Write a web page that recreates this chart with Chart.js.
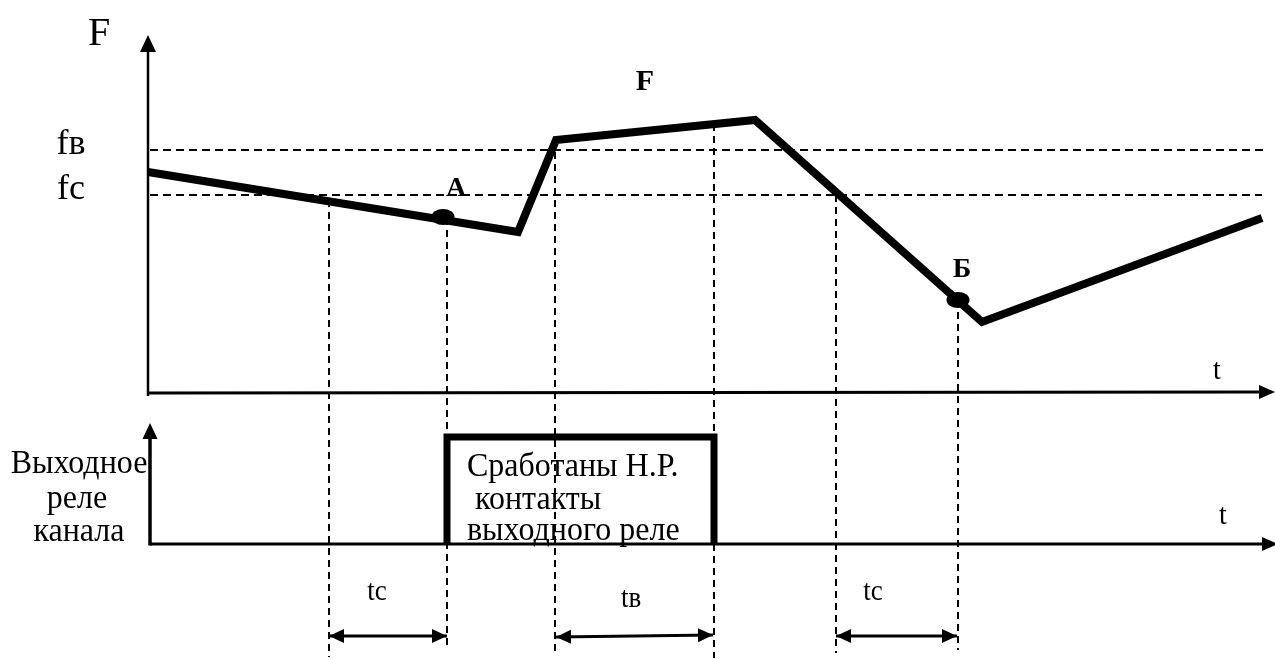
<!DOCTYPE html>
<html>
<head>
<meta charset="utf-8">
<script src="https://cdn.jsdelivr.net/npm/chart.js@4"></script>
<style>
  html, body { margin: 0; padding: 0; background: #fff; }
  #wrap { width: 1275px; height: 659px; }
</style>
</head>
<body>
<div id="wrap"><canvas id="relayChart" width="1275" height="659"></canvas></div>
<script>
// signal F(t)
const curveT = [0, 37, 40.8, 60.7, 83.4, 111.4];
const curveF = [22.1, 16.1, 25.3, 27.3, 7.1, 17.5];

// setpoints
const levelNames = ['fв', 'fc'];
const levelValues = [24.3, 19.8];
const levelEndT = [111.7, 111.4];

// marked points A and Б
const markNames = ['А', 'Б'];
const markT = [29.5, 81];
const markF = [17.6, 9.3];

// output relay state
const relayT = [29.9, 29.9, 56.6, 56.6];
const relayState = [0, 1, 1, 0];

// moments shown by vertical dashed lines
const eventT = [18.1, 29.9, 40.7, 56.6, 68.8, 81];
const eventTopF = [19.3, 17.5, 25.3, 26.9, 19.8, 9.3];
const eventLowF = [-26.4, -25.4, -25.9, -26.5, -26.0, -25.7];

// delay intervals
const delayNames = ['tc', 'tв', 'tc'];
const delayStart = [18.1, 40.8, 68.8];
const delayEnd = [29.9, 56.5, 80.9];
const delayStartF = [-24.3, -24.4, -24.3];
const delayEndF = [-24.3, -24.2, -24.3];

const serif = '"Liberation Serif", "Times New Roman", serif';

// ellipse used as point marker
const dot = document.createElement('canvas');
dot.width = 24; dot.height = 18;
const dctx = dot.getContext('2d');
dctx.beginPath();
dctx.ellipse(12, 9, 11.5, 8, 0, 0, Math.PI * 2);
dctx.fill();

const datasets = [];

datasets.push({
  data: curveT.map((t, i) => ({x: t, y: curveF[i]})),
  yAxisID: 'yF',
  borderColor: '#000',
  borderWidth: 8,
  borderJoinStyle: 'miter',
  borderCapStyle: 'butt',
  pointRadius: 0,
  showLine: true
});

levelValues.forEach((v, i) => {
  datasets.push({
    data: [{x: 0.2, y: v}, {x: levelEndT[i], y: v}],
    yAxisID: 'yF',
    borderColor: '#000',
    borderWidth: 2,
    borderDash: [8, 5],
    pointRadius: 0,
    showLine: true
  });
});

eventT.forEach((t, i) => {
  datasets.push({
    data: [{x: t, y: eventTopF[i]}, {x: t, y: eventLowF[i]}],
    yAxisID: 'yF',
    borderColor: '#000',
    borderWidth: 2,
    borderDash: [7, 5],
    pointRadius: 0,
    showLine: true
  });
});

datasets.push({
  data: relayT.map((t, i) => ({x: t, y: relayState[i]})),
  yAxisID: 'yR',
  borderColor: '#000',
  borderWidth: 7,
  borderJoinStyle: 'miter',
  borderCapStyle: 'butt',
  pointRadius: 0,
  showLine: true
});

delayNames.forEach((n, i) => {
  datasets.push({
    data: [{x: delayStart[i], y: delayStartF[i]}, {x: delayEnd[i], y: delayEndF[i]}],
    yAxisID: 'yF',
    borderColor: '#000',
    borderWidth: 3,
    pointRadius: 0,
    showLine: true
  });
});

datasets.push({
  data: markT.map((t, i) => ({x: t, y: markF[i]})),
  yAxisID: 'yF',
  pointStyle: dot,
  pointRadius: 10,
  showLine: false
});

function seg(ctx, x1, y1, x2, y2, w) {
  ctx.lineWidth = w;
  ctx.beginPath();
  ctx.moveTo(x1, y1);
  ctx.lineTo(x2, y2);
  ctx.stroke();
}

function head(ctx, tipX, tipY, ang, len, half) {
  ctx.save();
  ctx.translate(tipX, tipY);
  ctx.rotate(ang);
  ctx.beginPath();
  ctx.moveTo(0, 0);
  ctx.lineTo(-len, -half);
  ctx.lineTo(-len, half);
  ctx.closePath();
  ctx.fill();
  ctx.restore();
}

// text in the scan is a touch taller than wide, so allow a small vertical stretch
function text(ctx, s, x, y, size, opts = {}) {
  ctx.save();
  ctx.font = (opts.bold ? 'bold ' : '') + size + 'px ' + serif;
  ctx.textAlign = opts.align || 'center';
  ctx.textBaseline = 'alphabetic';
  ctx.translate(x, y);
  ctx.scale(1, opts.sy || 1);
  ctx.fillText(s, 0, 0);
  ctx.restore();
}

const sketch = {
  id: 'sketch',
  afterDatasetsDraw(chart) {
    const {ctx} = chart;
    const {x, yF, yR} = chart.scales;
    ctx.save();
    ctx.strokeStyle = '#000';
    ctx.fillStyle = '#000';

    // F(t) axes
    const ox = x.getPixelForValue(0);
    const oy = yF.getPixelForValue(0);
    seg(ctx, ox, oy + 3, ox, 50, 2.5);
    head(ctx, ox, 35, -Math.PI / 2, 17, 8);
    seg(ctx, ox, oy, 1260, oy - 1, 3);
    head(ctx, 1275, oy - 1, 0, 16, 7);

    // relay axes
    const ry = yR.getPixelForValue(0);
    const rx = x.getPixelForValue(0.2);
    seg(ctx, rx, ry + 1.5, rx, 436, 3.5);
    head(ctx, rx, 423, -Math.PI / 2, 16, 7.5);
    seg(ctx, rx, ry, 1262, ry, 3);
    head(ctx, 1278, ry, 0, 16, 7);

    // interval arrowheads
    delayNames.forEach((n, i) => {
      const x1 = x.getPixelForValue(delayStart[i]), y1 = yF.getPixelForValue(delayStartF[i]);
      const x2 = x.getPixelForValue(delayEnd[i]), y2 = yF.getPixelForValue(delayEndF[i]);
      const a = Math.atan2(y2 - y1, x2 - x1);
      head(ctx, x2, y2, a, 15, 7);
      head(ctx, x1, y1, a + Math.PI, 15, 7);
    });

    // labels
    text(ctx, 'F', 99, 45, 40);
    levelNames.forEach((n, i) => {
      text(ctx, n, 71, yF.getPixelForValue(levelValues[i]) + 4, 36);
    });
    text(ctx, 't', 1217, 379, 28, {sy: 1.05});
    text(ctx, 't', 1223, 524, 28, {sy: 1.05});
    text(ctx, 'F', 645, 90, 30, {bold: true});
    text(ctx, markNames[0], x.getPixelForValue(markT[0]) + 13, 196, 28, {bold: true});
    text(ctx, markNames[1], x.getPixelForValue(markT[1]) + 4, 277, 28, {bold: true});

    const st = {sy: 1.05};
    text(ctx, 'Выходное', 79, 473, 32, st);
    text(ctx, 'реле', 77, 508, 32, st);
    text(ctx, 'канала', 79, 541, 32, st);

    const box = {align: 'left', sy: 1.05};
    text(ctx, 'Сработаны Н.Р.', 467, 476, 32, box);
    text(ctx, ' контакты', 467, 509, 32, box);
    text(ctx, 'выходного реле', 467, 540, 32, box);

    const labelX = [377, 631, 873];
    const labelY = [600, 607, 600];
    delayNames.forEach((n, i) => text(ctx, n, labelX[i], labelY[i], 27, {sy: 1.08}));

    ctx.restore();
  }
};

new Chart(document.getElementById('relayChart'), {
  type: 'scatter',
  data: {datasets},
  options: {
    responsive: false,
    devicePixelRatio: 1,
    animation: false,
    events: [],
    layout: {padding: 0, autoPadding: false},
    plugins: {legend: {display: false}, tooltip: {enabled: false}},
    scales: {
      x: {type: 'linear', min: -14.8, max: 112.7, display: false},
      yF: {type: 'linear', min: -26.6, max: 39.3, display: false},
      yR: {type: 'linear', min: -115 / 107, max: 544 / 107, display: false}
    }
  },
  plugins: [sketch]
});
</script>
</body>
</html>
